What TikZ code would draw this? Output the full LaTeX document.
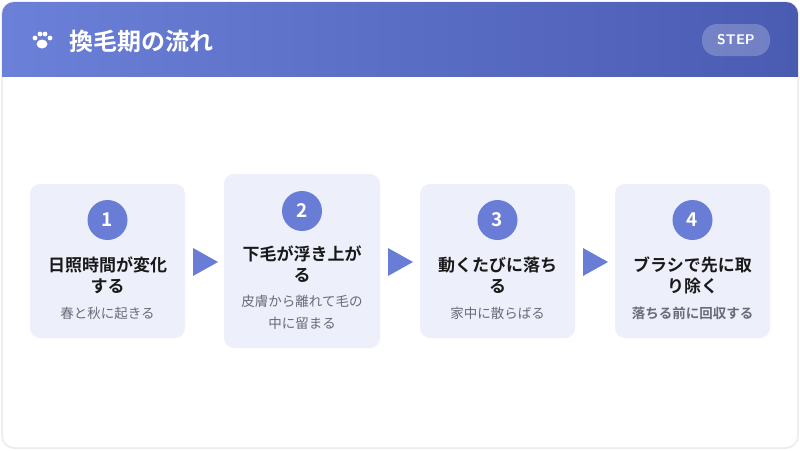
\documentclass[tikz,border=0pt]{standalone}
\usepackage{fontspec}
\newfontfamily\jpfont{Noto Sans CJK JP}
\newfontfamily\jpbold{Noto Sans CJK JP Bold}
\usetikzlibrary{positioning}
\definecolor{headL}{HTML}{6B80D8}
\definecolor{headR}{HTML}{4A5BB2}
\definecolor{cardbg}{HTML}{EDEFFB}
\definecolor{accent}{HTML}{6A7DD6}
\definecolor{subgray}{HTML}{6B6B78}
\tikzset{
  card/.style={fill=cardbg, rounded corners=10pt},
  num/.style={circle, fill=accent, minimum size=40pt, inner sep=0pt, text=white, font=\jpbold\fontsize{19}{19}\selectfont},
  ttl/.style={align=center, font=\jpbold\fontsize{17}{21}\selectfont, text=black!90},
  sub/.style={align=center, font=\jpfont\fontsize{13.5}{22}\selectfont, text=subgray}
}
\begin{document}
\begin{tikzpicture}[x=1pt,y=-1pt]
\useasboundingbox (0,0) rectangle (800,450);
\fill[white] (0,0) rectangle (800,450);
% frame and header
\draw[draw=black!8, line width=1.5pt, fill=white, rounded corners=12pt] (2,2) rectangle (798,448);
\begin{scope}
  \clip[rounded corners=12pt] (2,2) rectangle (798,448);
  \shade[left color=headL, right color=headR] (2,2) rectangle (798,76);
\end{scope}
% paw
\fill[white] (42,44) ellipse (5.5pt and 4.5pt);
\foreach \px/\py in {35/38, 40/34, 45/34, 50/38} \fill[white] (\px,\py) circle (2.4pt);
\node[anchor=west, text=white, font=\jpbold\fontsize{24}{24}\selectfont] (title) at (66,41) {換毛期の流れ};
\node[fill=white, fill opacity=0.22, text opacity=1, text=white, rounded corners=15pt, minimum width=68pt, minimum height=32pt, font=\sffamily\bfseries\fontsize{14}{14}\selectfont] (stepbadge) at (736,40) {STEP};
% cards
\fill[card] (30,184) rectangle (185,338);
\fill[card] (224,174) rectangle (380,348);
\fill[card] (420,184) rectangle (575,338);
\fill[card] (615,184) rectangle (770,338);
% step 1
\node[num] (n1) at (107.5,220) {1};
\node[ttl] (t1) at (107.5,275) {日照時間が変化\\する};
\node[sub] (s1) at (107.5,313) {春と秋に起きる};
% step 2
\node[num] (n2) at (302,211) {2};
\node[ttl] (t2) at (302,264) {下毛が浮き上が\\る};
\node[sub] (s2) at (302,312) {皮膚から離れて毛の\\中に留まる};
% step 3
\node[num] (n3) at (497.5,220) {3};
\node[ttl] (t3) at (497.5,275) {動くたびに落ち\\る};
\node[sub] (s3) at (497.5,313) {家中に散らばる};
% step 4
\node[num] (n4) at (692.5,220) {4};
\node[ttl] (t4) at (692.5,275) {ブラシで先に取\\り除く};
\node[sub, font=\jpbold\fontsize{13.5}{22}\selectfont] (s4) at (692.5,313) {落ちる前に回収する};
% arrows
\foreach \ax in {193, 388, 583}
  \fill[accent] (\ax,248) -- (\ax+25,262) -- (\ax,276) -- cycle;
\end{tikzpicture}
\end{document}
